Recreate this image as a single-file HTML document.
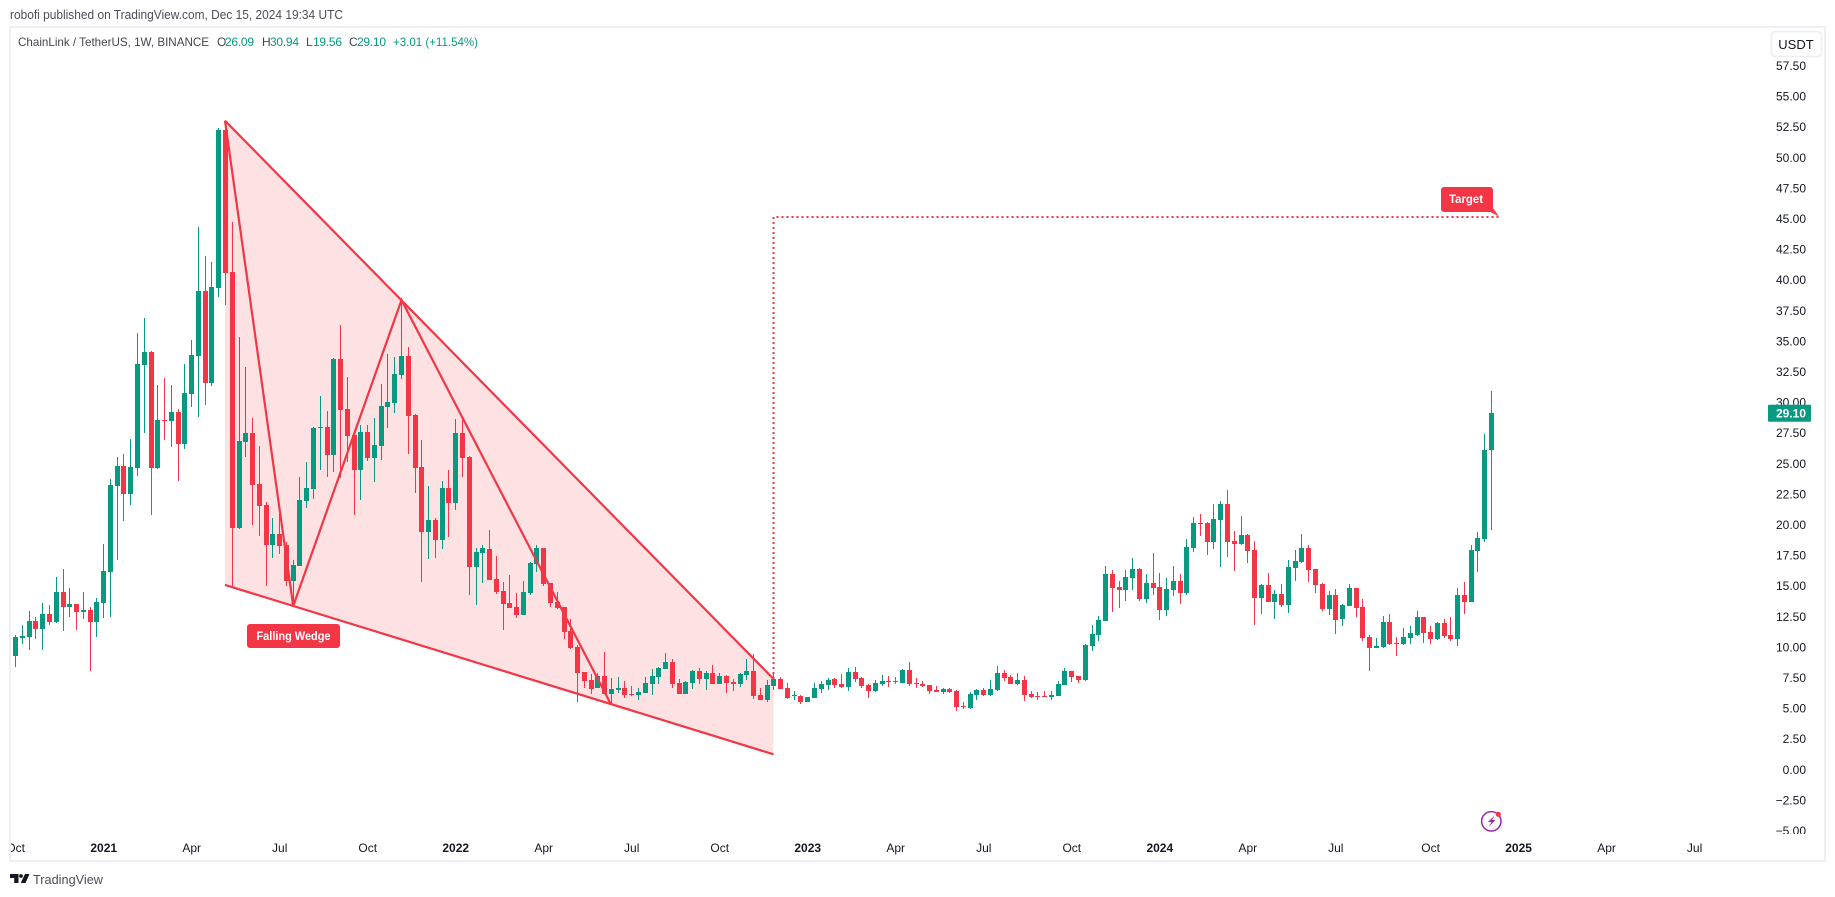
<!DOCTYPE html>
<html lang="en">
<head>
<meta charset="utf-8">
<title>ChainLink / TetherUS weekly chart</title>
<style>
  html, body { margin: 0; padding: 0; background: #fff; width: 1835px; height: 897px; overflow: hidden; }
  svg { display: block; font-family: "Liberation Sans", sans-serif; }
</style>
</head>
<body>
<svg id="chart" xmlns="http://www.w3.org/2000/svg" width="1835" height="897" viewBox="0 0 1835 897">
  <defs>
    <clipPath id="plot-clip"><rect x="11" y="28" width="1813" height="832"/></clipPath>
    <clipPath id="price-clip"><rect x="1760" y="28" width="64" height="806"/></clipPath>
  </defs>
  <text x="10" y="19" font-size="12.5" fill="#4a4e59" textLength="333" lengthAdjust="spacingAndGlyphs">robofi published on TradingView.com, Dec 15, 2024 19:34 UTC</text>
  <rect x="10" y="27" width="1815" height="834" fill="#fff" stroke="#eeeef4" stroke-width="2"/>
  <g id="fill-layer" clip-path="url(#plot-clip)"></g>
  <g id="candle-layer" clip-path="url(#plot-clip)"></g>
  <g id="drawing-layer" clip-path="url(#plot-clip)"></g>

  <g font-size="12">
    <text x="18" y="46" fill="#434651" textLength="191" lengthAdjust="spacingAndGlyphs">ChainLink / TetherUS, 1W, BINANCE</text>
    <text x="217" y="46" fill="#434651">O</text>
    <text x="225" y="46" fill="#089981" textLength="29">26.09</text>
    <text x="262" y="46" fill="#434651">H</text>
    <text x="270" y="46" fill="#089981" textLength="29">30.94</text>
    <text x="306" y="46" fill="#434651">L</text>
    <text x="313" y="46" fill="#089981" textLength="29">19.56</text>
    <text x="349" y="46" fill="#434651">C</text>
    <text x="357" y="46" fill="#089981" textLength="29">29.10</text>
    <text x="393" y="46" fill="#089981" textLength="85" lengthAdjust="spacingAndGlyphs">+3.01 (+11.54%)</text>
  </g>

  <g id="price-axis" clip-path="url(#price-clip)"></g>
  <g id="time-axis" clip-path="url(#plot-clip)"></g>

  <g id="price-tag"></g>

  <g>
    <rect x="1771.5" y="31.5" width="50" height="25" rx="4" fill="#fff" stroke="#eeeef4" stroke-width="1.5"/>
    <text x="1796" y="49" font-size="13" fill="#131722" text-anchor="middle">USDT</text>
  </g>

  <g>
    <rect x="247" y="624" width="93" height="24" rx="3" fill="#f23645"/>
    <text x="293.5" y="640" font-size="12" font-weight="bold" fill="#fff" text-anchor="middle" textLength="74" lengthAdjust="spacingAndGlyphs">Falling Wedge</text>
  </g>
  <g>
    <path d="M1444 187h46a3 3 0 0 1 3 3v18l6 8.500l-8.500 -4.500h-46.500a3 3 0 0 1 -3 -3v-19a3 3 0 0 1 3 -3z" fill="#f23645"/>
    <text x="1466" y="203" font-size="12" font-weight="bold" fill="#fff" text-anchor="middle" textLength="34" lengthAdjust="spacingAndGlyphs">Target</text>
  </g>

  <g>
    <circle cx="1491.300" cy="821.300" r="9.700" fill="none" stroke="#9c27b0" stroke-width="1.500"/>
    <path d="M1495 815l-7 7h3.500l-3 5l7 -7h-3.500z" fill="#9c27b0"/>
    <circle cx="1498.300" cy="814.300" r="2.600" fill="#f23645"/>
  </g>

  <g>
    <path d="M10 874h8.500v9h-4.300v-5h-4.200z" fill="#131722"/>
    <circle cx="21" cy="876" r="1.900" fill="#131722"/>
    <path d="M25 874h4.500l-4 9h-4.800z" fill="#131722"/>
    <text x="33" y="884" font-size="13" fill="#4a4e59" textLength="70" lengthAdjust="spacingAndGlyphs">TradingView</text>
  </g>
</svg>

<script>
const opens = [
10.76,9.29,10.74,10.82,12.13,11.47,12.70,12.05,14.50,13.27,
13.51,12.86,13.02,12.05,13.60,16.13,23.15,24.79,22.50,24.62,
33.04,34.10,24.62,28.55,28.46,29.20,26.58,30.67,33.78,39.10,
31.57,39.33,52.24,40.64,19.72,26.75,27.48,23.32,21.60,18.33,
19.23,18.33,15.39,16.62,21.93,22.91,27.89,27.97,25.68,33.53,
29.44,27.32,24.46,27.56,25.44,26.42,29.61,29.94,32.22,33.78,
28.95,24.70,19.40,20.38,18.74,22.99,21.77,27.48,25.52,16.54,
17.68,18.00,15.56,14.58,13.60,13.27,12.62,14.41,16.78,18.09,
15.23,13.68,13.27,11.31,10.00,7.96,7.31,6.65,7.63,6.16,
6.49,6.65,6.16,6.08,6.24,6.98,7.55,8.20,8.77,7.06,
6.16,7.06,8.04,7.39,7.88,6.98,7.63,7.14,6.98,7.71,
8.04,6.08,5.67,6.81,7.39,6.65,6.00,6.00,5.51,5.83,
6.57,6.90,7.39,6.98,6.73,7.96,7.47,6.90,6.41,6.98,
7.22,7.22,7.06,8.12,7.06,6.98,6.90,6.49,6.32,6.57,
6.41,5.18,5.02,6.08,6.49,6.08,6.49,7.88,7.55,6.98,
7.31,6.16,6.00,6.00,5.92,6.00,6.90,8.04,7.63,7.31,
10.08,10.98,12.13,15.96,14.90,14.66,15.64,16.37,13.92,15.23,
14.90,13.02,14.66,15.39,14.41,18.09,20.13,20.13,18.58,20.38,
21.68,18.66,18.41,19.15,17.93,14.00,15.07,13.68,14.33,13.43,
16.46,16.94,18.09,16.37,15.15,13.11,14.25,12.29,13.35,14.82,
13.27,10.82,9.92,10.00,12.05,10.33,10.25,10.74,10.98,12.45,
11.23,10.66,11.96,10.98,10.66,14.25,13.68,17.84,18.82,26.09];
const highs = [
10.80,10.98,11.80,12.94,12.46,13.60,13.43,15.72,16.37,14.82,
13.51,14.50,13.27,14.00,18.41,23.73,25.52,25.77,26.99,35.65,
36.88,34.18,31.41,31.98,31.41,29.45,33.12,35.08,44.32,41.95,
41.45,52.40,52.40,44.73,35.33,32.88,28.71,26.42,21.85,20.54,
20.87,18.58,17.11,23.89,25.11,27.97,30.50,29.28,33.61,36.31,
32.06,27.73,28.14,28.14,28.71,31.49,33.94,33.69,38.35,34.51,
29.04,26.91,23.15,20.54,23.56,24.46,28.63,28.63,25.60,18.09,
18.33,19.56,17.44,15.31,15.88,14.41,15.39,16.94,18.33,18.09,
15.23,14.50,13.27,12.29,10.17,7.96,7.80,7.88,9.59,7.47,
7.55,7.22,6.81,6.65,7.55,8.20,8.37,9.51,9.02,7.39,
7.22,8.12,8.28,8.04,8.53,7.88,7.71,7.39,7.88,9.02,
9.43,6.65,7.31,7.80,7.55,7.06,6.41,6.08,5.92,7.06,
7.22,7.47,7.47,7.80,8.28,8.37,7.55,6.98,7.31,7.71,
7.63,7.55,8.20,8.77,7.47,7.22,6.90,6.81,6.65,6.65,
6.49,5.51,6.32,6.57,6.65,7.31,8.45,8.12,7.71,7.88,
7.63,6.41,6.32,6.41,6.41,7.22,8.28,8.04,7.63,10.25,
11.80,12.53,16.62,16.29,15.39,16.29,17.27,16.45,15.96,17.68,
16.05,15.64,16.62,15.96,18.82,20.62,20.87,20.21,21.68,21.93,
22.82,19.48,20.70,19.23,18.66,15.15,16.05,14.66,15.15,17.11,
17.93,19.23,18.33,16.37,15.23,14.58,14.74,13.51,15.15,14.82,
13.92,10.98,10.74,12.53,12.70,10.82,11.55,11.72,12.94,12.45,
11.72,12.05,12.29,12.45,14.82,15.31,18.33,19.40,27.40,30.94];
const lows = [
9.25,8.39,10.25,9.76,10.66,9.76,11.80,11.96,11.31,12.45,
11.39,12.29,8.04,10.82,12.37,12.45,17.11,20.29,21.60,23.97,
27.48,20.78,24.54,26.91,26.34,23.56,26.17,29.61,28.79,29.77,
31.33,38.59,37.94,14.98,19.64,25.52,19.97,19.07,14.98,17.27,
17.60,14.98,13.35,16.62,21.36,22.09,24.46,23.89,24.30,23.81,
25.11,20.78,22.01,25.19,23.48,25.27,27.89,29.12,31.90,25.77,
22.58,15.31,17.19,17.27,18.00,18.99,21.19,23.89,14.25,13.43,
15.23,15.47,14.33,11.39,13.19,12.37,12.62,14.25,16.13,14.98,
13.27,13.11,10.66,9.84,5.51,6.65,6.16,6.65,6.16,5.26,
6.24,5.83,6.00,5.67,6.24,6.08,6.98,8.20,6.65,6.16,
6.16,6.57,6.98,6.49,6.98,6.98,6.24,6.41,6.73,7.31,
5.75,5.67,5.51,6.49,6.57,5.75,5.67,5.35,5.51,5.83,
6.24,6.49,6.65,6.65,6.41,7.14,6.65,5.83,6.32,6.81,
6.73,6.98,7.06,6.81,6.65,6.73,6.16,6.32,6.16,6.24,
4.77,4.93,4.93,5.67,6.00,6.00,6.41,7.22,6.98,6.90,
5.59,5.83,5.67,5.92,5.67,6.00,6.90,7.14,7.06,7.22,
9.67,10.49,12.13,12.86,13.19,13.76,14.66,13.76,13.60,14.25,
12.21,12.53,14.17,13.51,14.25,17.76,19.07,17.52,18.00,16.54,
17.35,16.21,18.33,16.86,11.80,12.70,13.68,12.29,13.27,12.78,
15.39,16.86,15.31,14.41,12.94,12.62,11.06,11.72,13.35,12.45,
10.49,8.04,9.92,9.92,10.17,9.27,10.17,10.25,10.90,10.33,
10.25,10.57,10.74,10.49,10.08,12.70,13.68,16.13,18.58,19.56];
const closes = [
9.29,10.82,10.90,12.13,11.47,12.70,12.05,14.50,13.27,13.51,
12.86,13.02,12.05,13.68,16.21,23.24,24.79,22.50,24.70,33.12,
34.10,24.62,28.55,28.46,29.20,26.58,30.75,33.86,39.10,31.57,
39.41,52.24,40.56,19.72,26.83,27.48,23.24,21.52,18.33,19.23,
18.25,15.39,16.70,22.01,22.99,27.89,27.97,25.68,33.53,29.36,
27.24,24.46,27.56,25.44,26.50,29.69,30.02,32.30,33.78,28.87,
24.62,19.40,20.38,18.74,22.99,21.77,27.48,25.44,16.54,17.76,
18.09,15.47,14.50,13.51,13.19,12.62,14.50,16.86,18.09,15.15,
13.60,13.19,11.23,9.92,7.88,7.22,6.57,7.63,6.16,6.57,
6.65,6.08,6.08,6.32,7.06,7.63,8.28,8.77,6.98,6.16,
7.14,8.04,7.39,7.88,6.98,7.63,7.06,6.98,7.80,8.04,
6.00,5.67,6.90,7.39,6.57,5.83,6.08,5.51,5.92,6.65,
6.98,7.31,6.90,6.73,7.96,7.39,6.81,6.41,7.06,7.22,
7.14,7.14,8.12,6.98,6.98,6.81,6.41,6.32,6.57,6.32,
5.10,5.10,6.16,6.49,6.08,6.57,7.88,7.47,6.98,7.31,
6.08,5.92,5.92,5.92,6.08,6.98,8.04,7.55,7.31,10.17,
11.06,12.21,15.96,14.82,14.66,15.72,16.37,13.92,15.23,14.82,
13.02,14.74,15.39,14.41,18.17,20.13,20.05,18.58,20.46,21.68,
18.58,18.41,19.15,17.84,14.00,15.07,13.68,14.33,13.43,16.54,
17.03,18.09,16.29,15.07,13.11,14.25,12.21,13.43,14.82,13.19,
10.74,9.92,10.08,12.05,10.25,10.25,10.82,11.14,12.45,11.14,
10.66,11.96,10.90,10.66,14.25,13.68,17.93,18.90,26.09,29.10];

const priceTicks = [-5,-2.5,0,2.5,5,7.5,10,12.5,15,17.5,20,22.5,25,27.5,30,32.5,35,37.5,40,42.5,45,47.5,50,52.5,55,57.5];
const timeTickBars = [1,14,27,40,53,66,79,92,105,118,131,144,157,170,183,196,210,223,236,249];
const timeTickLabels = ["Oct","2021","Apr","Jul","Oct","2022","Apr","Jul","Oct","2023","Apr","Jul","Oct","2024","Apr","Jul","Oct","2025","Apr","Jul"];
const lastPrice = 29.10;

/* Drawing anchors as [bar index, price] */
const wedgeApex = [31.93, 53.0];
const wedgeLowerStart = [31.93, 15.07];
const wedgeUpperEnd = [112.95, 7.39];
const wedgeLowerEnd = [112.95, 1.23];
const zigzagAnchors = [[31.93, 53.0], [42, 13.35], [58, 38.35], [88.9, 5.35]];
const targetPrice = 45.15;
const targetEndBar = 220.1;

const SVGNS = 'http://www.w3.org/2000/svg';
const UP = '#089981', DOWN = '#f23645';
const LAST_BAR = 219, LAST_X = 1491.5, BAR_STEP = 6.77;
const PRICE_ZERO_Y = 769.4, PX_PER_UNIT = 12.24;

function xAxis(bar) { return LAST_X - BAR_STEP * (LAST_BAR - bar); }
function yAxis(price) { return PRICE_ZERO_Y - PX_PER_UNIT * price; }

function make(tag, attrs, parent) {
  const el = document.createElementNS(SVGNS, tag);
  for (const k in attrs) el.setAttribute(k, attrs[k]);
  parent.appendChild(el);
  return el;
}

const fillLayer = document.getElementById('fill-layer');
const candleLayer = document.getElementById('candle-layer');
const drawingLayer = document.getElementById('drawing-layer');
const priceAxis = document.getElementById('price-axis');
const timeAxis = document.getElementById('time-axis');
const priceTag = document.getElementById('price-tag');

function pt(a) { return xAxis(a[0]).toFixed(1) + ',' + yAxis(a[1]).toFixed(1); }

const wedgeFill = make('polygon', {points: [wedgeApex, wedgeUpperEnd, wedgeLowerEnd, wedgeLowerStart].map(pt).join(' '), fill: 'rgba(242,54,69,0.15)'}, fillLayer);



opens.forEach(function (open, i) {
  const close = closes[i];
  const color = close >= open ? UP : DOWN;
  const left = Math.round(xAxis(i) - 2.5);
  const top = Math.round(yAxis(Math.max(open, close)));
  const bottom = Math.round(yAxis(Math.min(open, close)));
  const wickTop = Math.round(yAxis(highs[i]));
  const wickBottom = Math.round(yAxis(lows[i]));
  const g = make('g', {'shape-rendering': 'crispEdges', fill: color}, candleLayer);
  
  
  const wick = make('rect', {x: left + 2, y: wickTop, width: 1, height: Math.max(1, wickBottom - wickTop)}, g);
  
  
  const body = make('rect', {x: left, y: top, width: 5, height: Math.max(1, bottom - top)}, g);
  
  
});

const upperLine = make('polyline', {points: [wedgeApex, wedgeUpperEnd].map(pt).join(' '), fill: 'none', stroke: DOWN, 'stroke-width': 2.2}, drawingLayer);



const lowerLine = make('polyline', {points: [wedgeLowerStart, wedgeLowerEnd].map(pt).join(' '), fill: 'none', stroke: DOWN, 'stroke-width': 2.2}, drawingLayer);



const zigzag = make('polyline', {points: zigzagAnchors.map(pt).join(' '), fill: 'none', stroke: DOWN, 'stroke-width': 2.2, 'stroke-linejoin': 'miter'}, drawingLayer);



const targetPath = make('polyline', {points: [wedgeUpperEnd, [wedgeUpperEnd[0], targetPrice], [targetEndBar, targetPrice]].map(pt).join(' '), fill: 'none', stroke: DOWN, 'stroke-width': 2, 'stroke-dasharray': '2 3', 'shape-rendering': 'crispEdges'}, drawingLayer);



priceTicks.forEach(function (value) {
  const label = make('text', {x: 1806, y: (yAxis(value) + 4.4).toFixed(1), 'font-size': 12, fill: '#131722', 'text-anchor': 'end'}, priceAxis);
  
  
  label.textContent = (value < 0 ? '\u2212' : '') + Math.abs(value).toFixed(2);
});

timeTickBars.forEach(function (bar, i) {
  const text = timeTickLabels[i];
  const isYear = /^\d+$/.test(text);
  const label = make('text', {x: xAxis(bar).toFixed(1), y: 852, 'font-size': 12, fill: '#131722', 'font-weight': isYear ? 'bold' : 'normal', 'text-anchor': 'middle'}, timeAxis);
  
  
  label.textContent = text;
});

const tagY = yAxis(lastPrice);
const tagBox = make('rect', {x: 1768, y: (tagY - 8.5).toFixed(1), width: 43, height: 17, rx: 1, fill: UP}, priceTag);


const tagText = make('text', {x: 1806, y: (tagY + 4.4).toFixed(1), 'font-size': 12, 'font-weight': 'bold', fill: '#fff', 'text-anchor': 'end'}, priceTag);


tagText.textContent = lastPrice.toFixed(2);
</script>
</body>
</html>
